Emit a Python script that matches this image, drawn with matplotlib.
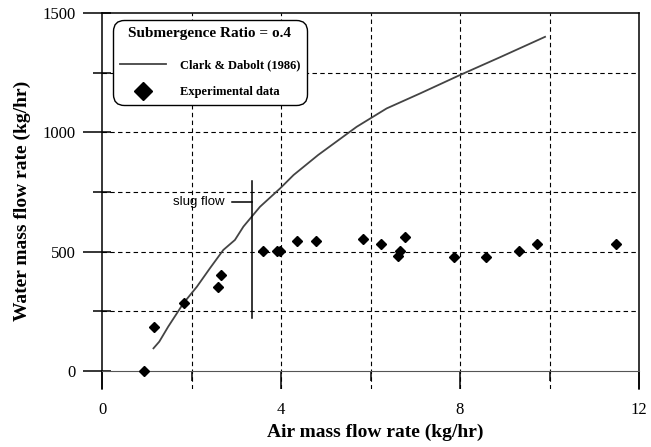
import numpy as np
import matplotlib.pyplot as plt
from matplotlib.lines import Line2D

# Clark & Dabolt (1986) correlation
model_air = [1.15, 1.28, 1.48, 1.82, 2.12, 2.41, 2.71, 2.97, 3.16, 3.53, 3.98,
             4.28, 4.83, 5.69, 6.36, 7.11, 8.0, 8.9, 9.9]
model_water = [95, 123, 186, 284, 353, 430, 507, 549, 605, 688, 765,
               821, 905, 1023, 1100, 1163, 1240, 1315, 1400]

# measured points
exp_air = [0.94, 1.16, 1.83, 2.59, 2.66, 3.60, 3.91, 3.98, 4.36, 4.78,
           5.83, 6.23, 6.77, 6.67, 6.61, 7.87, 8.57, 9.32, 9.71, 11.49]
exp_water = [0, 184, 285, 352, 402, 503, 503, 503, 545, 545,
             553, 531, 560, 504, 482, 478, 476, 501, 532, 533]

# slug flow boundary
slug_x = 3.35
slug_y = [222, 796]

serif = "Liberation Serif"
sans = "Liberation Sans"

fig = plt.figure(figsize=(6.51, 4.47), dpi=100)
ax = fig.add_axes([0.1567, 0.13, 0.8249, 0.841])

ax.set_xlim(0, 12)
ax.set_ylim(-75, 1500)

ax.plot(model_air, model_water, color="#444444", lw=1.3)
ax.plot(exp_air, exp_water, "D", color="black", ms=5, ls="none", clip_on=False, zorder=5)

# slug flow marker
ax.plot([slug_x, slug_x], slug_y, color="black", lw=1.1)
ax.plot([2.9, slug_x], [710, 710], color="black", lw=1.1)
ax.text(2.73, 710, "slug flow", family=sans, fontsize=9.5, ha="right", va="center")

# grid
for gx in [2, 4, 6, 8, 10]:
    ax.axvline(gx, color="black", lw=0.8, ls=(0, (4, 3)), zorder=0)
for gy in [250, 500, 750, 1000, 1250]:
    ax.axhline(gy, color="black", lw=0.8, ls=(0, (4, 3)), zorder=0)

ax.spines["bottom"].set_position(("data", 0))
ax.spines["bottom"].set_color("#555555")
for s in ["left", "right", "top"]:
    ax.spines[s].set_linewidth(1.1)

ax.set_xticks([0, 4, 8, 12])
ax.set_xticks([2, 6, 10], minor=True)
ax.set_yticks([0, 500, 1000, 1500])
ax.set_yticks([250, 750, 1250], minor=True)
ax.tick_params(axis="x", which="major", direction="out", length=13, width=1.1, pad=9)
ax.tick_params(axis="x", which="minor", direction="out", length=7, width=1.1)
ax.tick_params(axis="y", which="major", direction="out", length=13.7, width=1.1, pad=5)
ax.tick_params(axis="y", which="minor", direction="out", length=6.5, width=1.1)
for lab in ax.get_xticklabels() + ax.get_yticklabels():
    lab.set_family(serif)
    lab.set_fontsize(12)

# inward part of the y ticks
sec = ax.secondary_yaxis("left")
sec.set_yticks([0, 500, 1000, 1500])
sec.set_yticks([250, 750, 1250], minor=True)
sec.tick_params(which="both", direction="in", length=6.5, width=1.1, labelleft=False)
sec.spines["left"].set_visible(False)

ax.set_xlabel("Air mass flow rate (kg/hr)", family=serif, fontsize=14, fontweight="bold")
ax.set_ylabel("Water mass flow rate (kg/hr)", family=serif, fontsize=14, fontweight="bold")
ax.xaxis.set_label_coords(0.508, -0.092)
ax.yaxis.set_label_coords(-0.132, 0.5)

handles = [
    Line2D([], [], color="#444444", lw=1.3),
    Line2D([], [], marker="D", color="black", ls="none", ms=9),
]
leg = ax.legend(handles, ["Clark & Dabolt (1986)", "Experimental data"],
                title="Submergence Ratio = o.4", loc="upper left",
                bbox_to_anchor=(0.02, 0.982), borderaxespad=0,
                prop={"family": serif, "weight": "bold", "size": 9},
                title_fontproperties={"family": serif, "weight": "bold", "size": 11},
                handlelength=3.7, handletextpad=1.1, labelspacing=1.2,
                fancybox=True, framealpha=1, edgecolor="black",
                borderpad=0.55)
leg.get_frame().set_linewidth(1.0)
leg.get_frame().set_boxstyle("round,pad=0,rounding_size=0.9")
leg._legend_box.sep = 14

fig.savefig("out.png", dpi=100, facecolor="white")
